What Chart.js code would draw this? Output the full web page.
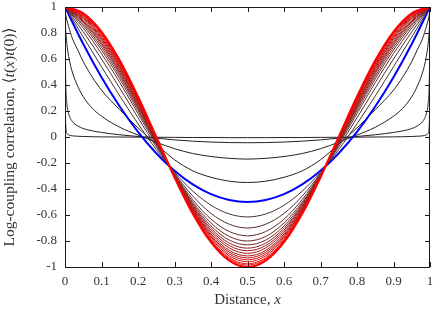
<!DOCTYPE html>
<html>
<head>
<meta charset="utf-8">
<script src="https://cdn.jsdelivr.net/npm/chart.js@4.4.0/dist/chart.umd.min.js"></script>
<style>
  html, body { margin: 0; padding: 0; background: #fff; }
  #wrap { width: 436px; height: 310px; }
</style>
</head>
<body>
<div id="wrap"><canvas id="corrCanvas" width="436" height="310"></canvas></div>
<script>
/* ===== DATOS ===== */
const xTicks = [0, 0.1, 0.2, 0.3, 0.4, 0.5, 0.6, 0.7, 0.8, 0.9, 1];
const xTickLabels = ['0', '0.1', '0.2', '0.3', '0.4', '0.5', '0.6', '0.7', '0.8', '0.9', '1'];
const yTicks = [-1, -0.8, -0.6, -0.4, -0.2, 0, 0.2, 0.4, 0.6, 0.8, 1];
const yTickLabels = ['-1', '-0.8', '-0.6', '-0.4', '-0.2', '0', '0.2', '0.4', '0.6', '0.8', '1'];

// malla fina para las curvas negras (empinadas cerca de los bordes)
const blackX = [0, 0.001, 0.002, 0.005, 0.01, 0.02, 0.035, 0.05, 0.075, 0.1, 0.15, 0.2, 0.25, 0.3, 0.35, 0.4, 0.45,
                0.5,
                0.55, 0.6, 0.65, 0.7, 0.75, 0.8, 0.85, 0.9, 0.925, 0.95, 0.965, 0.98, 0.99, 0.995, 0.998, 0.999, 1];

const curveA = [1, 0.3, 0.09, 0.03, 0.016, 0.009, 0.006, 0.004, 0.002, 0.001, 0, -0.001, -0.002, -0.003, -0.004, -0.004, -0.005,
                -0.005,
                -0.005, -0.004, -0.004, -0.003, -0.002, -0.001, 0, 0.001, 0.002, 0.004, 0.006, 0.009, 0.016, 0.03, 0.09, 0.3, 1];
const curveB = [1, 0.6, 0.42, 0.26, 0.18, 0.12, 0.085, 0.065, 0.047, 0.035, 0.017, 0.004, -0.009, -0.022, -0.032, -0.039, -0.043,
                -0.044,
                -0.043, -0.039, -0.032, -0.022, -0.009, 0.004, 0.017, 0.035, 0.047, 0.065, 0.085, 0.12, 0.18, 0.26, 0.42, 0.6, 1];
const curveC = [1, 0.88, 0.82, 0.72, 0.62, 0.5, 0.39, 0.31, 0.22, 0.16, 0.075, 0.015, -0.04, -0.09, -0.127, -0.15, -0.164,
                -0.17,
                -0.164, -0.15, -0.127, -0.09, -0.04, 0.015, 0.075, 0.16, 0.22, 0.31, 0.39, 0.5, 0.62, 0.72, 0.82, 0.88, 1];
const curveD = [1, 0.96, 0.94, 0.9, 0.85, 0.76, 0.67, 0.58, 0.46, 0.36, 0.21, 0.07, -0.055, -0.175, -0.26, -0.31, -0.34,
                -0.35,
                -0.34, -0.31, -0.26, -0.175, -0.055, 0.07, 0.21, 0.36, 0.46, 0.58, 0.67, 0.76, 0.85, 0.9, 0.94, 0.96, 1];

// malla regular para la curva azul y la familia roja
const gridX = [0, 0.05, 0.1, 0.15, 0.2, 0.25, 0.3, 0.35, 0.4, 0.45, 0.5, 0.55, 0.6, 0.65, 0.7, 0.75, 0.8, 0.85, 0.9, 0.95, 1];

const blueCurve = [1, 0.715, 0.46, 0.235, 0.04, -0.125, -0.26, -0.365, -0.44, -0.485, -0.5,
                   -0.485, -0.44, -0.365, -0.26, -0.125, 0.04, 0.235, 0.46, 0.715, 1];

const redCurves = [
  [1, 0.769, 0.540, 0.316, 0.102, -0.096, -0.271, -0.416, -0.525, -0.592, -0.615, -0.592, -0.525, -0.416, -0.271, -0.096, 0.102, 0.316, 0.540, 0.769, 1],
  [1, 0.809, 0.600, 0.376, 0.148, -0.075, -0.280, -0.454, -0.588, -0.671, -0.700, -0.671, -0.588, -0.454, -0.280, -0.075, 0.148, 0.376, 0.600, 0.809, 1],
  [1, 0.838, 0.641, 0.419, 0.180, -0.060, -0.285, -0.481, -0.632, -0.727, -0.760, -0.727, -0.632, -0.481, -0.285, -0.060, 0.180, 0.419, 0.641, 0.838, 1],
  [1, 0.857, 0.669, 0.447, 0.201, -0.050, -0.289, -0.499, -0.661, -0.765, -0.800, -0.765, -0.661, -0.499, -0.289, -0.050, 0.201, 0.447, 0.669, 0.857, 1],
  [1, 0.871, 0.690, 0.468, 0.218, -0.042, -0.292, -0.512, -0.684, -0.793, -0.830, -0.793, -0.684, -0.512, -0.292, -0.042, 0.218, 0.468, 0.690, 0.871, 1],
  [1, 0.883, 0.708, 0.486, 0.231, -0.036, -0.295, -0.523, -0.702, -0.816, -0.855, -0.816, -0.702, -0.523, -0.295, -0.036, 0.231, 0.486, 0.708, 0.883, 1],
  [1, 0.892, 0.722, 0.500, 0.242, -0.031, -0.297, -0.532, -0.717, -0.835, -0.875, -0.835, -0.717, -0.532, -0.297, -0.031, 0.242, 0.500, 0.722, 0.892, 1],
  [1, 0.901, 0.736, 0.514, 0.253, -0.026, -0.299, -0.541, -0.732, -0.853, -0.895, -0.853, -0.732, -0.541, -0.299, -0.026, 0.253, 0.514, 0.736, 0.901, 1],
  [1, 0.911, 0.750, 0.528, 0.263, -0.021, -0.301, -0.550, -0.746, -0.872, -0.915, -0.872, -0.746, -0.550, -0.301, -0.021, 0.263, 0.528, 0.750, 0.911, 1],
  [1, 0.918, 0.760, 0.539, 0.271, -0.017, -0.302, -0.557, -0.757, -0.886, -0.930, -0.886, -0.757, -0.557, -0.302, -0.017, 0.271, 0.539, 0.760, 0.918, 1],
  [1, 0.925, 0.771, 0.549, 0.279, -0.014, -0.304, -0.563, -0.768, -0.900, -0.945, -0.900, -0.768, -0.563, -0.304, -0.014, 0.279, 0.549, 0.771, 0.925, 1],
  [1, 0.932, 0.781, 0.560, 0.287, -0.010, -0.305, -0.570, -0.779, -0.914, -0.960, -0.914, -0.779, -0.570, -0.305, -0.010, 0.287, 0.560, 0.781, 0.932, 1],
  [1, 0.939, 0.792, 0.570, 0.296, -0.006, -0.307, -0.577, -0.791, -0.928, -0.975, -0.928, -0.791, -0.577, -0.307, -0.006, 0.296, 0.570, 0.792, 0.939, 1],
  [1, 0.944, 0.799, 0.577, 0.301, -0.004, -0.308, -0.581, -0.798, -0.937, -0.985, -0.937, -0.798, -0.581, -0.308, -0.004, 0.301, 0.577, 0.799, 0.944, 1],
  [1, 0.951, 0.809, 0.588, 0.309, 0, -0.309, -0.588, -0.809, -0.951, -1, -0.951, -0.809, -0.588, -0.309, 0, 0.309, 0.588, 0.809, 0.951, 1]
];

/* ===== ESTILO ===== */
const SERIF = '"Liberation Serif", "DejaVu Serif", serif';
const TEXT_COLOR = '#333';

function toPoints(xs, ys) {
    return xs.map((x, i) => ({ x: x, y: ys[i] }));
}

// de casi negro a rojo puro
function redShade(t) {
    const r = Math.round(70 + 185 * t);
    const g = Math.round(50 * (1 - t));
    return `rgb(${r},${g},${g})`;
}

function lineSet(points, color, width) {
    return {
        data: points,
        borderColor: color,
        borderWidth: width,
        pointRadius: 0,
        fill: false,
        cubicInterpolationMode: 'monotone'
    };
}

const datasets = [];
[curveA, curveB, curveC, curveD].forEach(ys => {
    datasets.push(lineSet(toPoints(blackX, ys), '#222', 1));
});
datasets.push(lineSet(toPoints(gridX, blueCurve), '#0000ff', 2));
redCurves.forEach((ys, i) => {
    const t = i / (redCurves.length - 1);
    const last = i === redCurves.length - 1;
    datasets.push(lineSet(toPoints(gridX, ys), redShade(t), last ? 2.2 : 1));
});
// los últimos se dibujan encima
datasets.forEach((d, i) => { d.order = datasets.length - i; });

// Texto con tramos en cursiva
function drawRich(ctx, parts, size) {
    const fonts = parts.map(p => `${p[1] ? 'italic ' : ''}${size}px ${SERIF}`);
    let total = 0;
    const widths = parts.map((p, i) => {
        ctx.font = fonts[i];
        const w = ctx.measureText(p[0]).width;
        total += w;
        return w;
    });
    let cx = -total / 2;
    parts.forEach((p, i) => {
        ctx.font = fonts[i];
        ctx.fillText(p[0], cx, 0);
        cx += widths[i];
    });
}

// Sin relleno extra por las etiquetas: el área de trazado la fija el layout
function fixPadding(axis) {
    axis.paddingTop = 0;
    axis.paddingBottom = 0;
    axis.paddingLeft = 0;
    axis.paddingRight = 0;
}

const frameAndTitles = {
    id: 'frameAndTitles',
    afterDatasetsDraw(chart) {
        const { ctx, chartArea: a, scales } = chart;
        const sx = scales.x, sy = scales.y;
        const tick = 5;
        ctx.save();
        ctx.strokeStyle = '#1a1a1a';
        ctx.lineWidth = 1;
        ctx.beginPath();
        xTicks.forEach(v => {
            const px = Math.round(sx.getPixelForValue(v)) + 0.5;
            ctx.moveTo(px, a.bottom); ctx.lineTo(px, a.bottom - tick);
            ctx.moveTo(px, a.top); ctx.lineTo(px, a.top + tick);
        });
        yTicks.forEach(v => {
            const py = Math.round(sy.getPixelForValue(v)) + 0.5;
            ctx.moveTo(a.left, py); ctx.lineTo(a.left + tick, py);
            ctx.moveTo(a.right, py); ctx.lineTo(a.right - tick, py);
        });
        ctx.stroke();
        ctx.strokeRect(Math.round(a.left) + 0.5, Math.round(a.top) + 0.5,
                       Math.round(a.width) - 1, Math.round(a.height));
        ctx.restore();
    },
    afterDraw(chart) {
        const { ctx, chartArea: a } = chart;
        ctx.save();
        ctx.fillStyle = TEXT_COLOR;
        ctx.textBaseline = 'middle';
        ctx.textAlign = 'left';
        // título eje x
        ctx.save();
        ctx.translate((a.left + a.right) / 2, 300);
        drawRich(ctx, [['Distance, ', false], ['x', true]], 15);
        ctx.restore();
        // título eje y
        ctx.save();
        ctx.translate(10, (a.top + a.bottom) / 2);
        ctx.rotate(-Math.PI / 2);
        drawRich(ctx, [['Log-coupling correlation, \u27E8', false], ['t', true], ['(', false], ['x', true],
                       [')', false], ['t', true], ['(0)\u27E9', false]], 15.5);
        ctx.restore();
        ctx.restore();
    }
};

new Chart(document.getElementById('corrCanvas'), {
    type: 'line',
    data: { datasets: datasets },
    options: {
        responsive: false,
        animation: false,
        devicePixelRatio: 1,
        layout: { padding: { top: 7, right: 6, left: 0, bottom: 0 } },
        plugins: {
            legend: { display: false },
            tooltip: { enabled: false }
        },
        scales: {
            x: {
                type: 'linear',
                min: 0,
                max: 1,
                afterBuildTicks: axis => { axis.ticks = xTicks.map(v => ({ value: v })); },
                afterFit: axis => { axis.height = 43; fixPadding(axis); },
                grid: { display: false, drawTicks: false },
                border: { display: false },
                ticks: {
                    padding: 7,
                    maxRotation: 0,
                    autoSkip: false,
                    color: TEXT_COLOR,
                    font: { family: SERIF, size: 13 },
                    callback: (value, index) => xTickLabels[index]
                }
            },
            y: {
                type: 'linear',
                min: -1,
                max: 1,
                afterBuildTicks: axis => { axis.ticks = yTicks.map(v => ({ value: v })); },
                afterFit: axis => { axis.width = 65; fixPadding(axis); },
                grid: { display: false, drawTicks: false },
                border: { display: false },
                ticks: {
                    padding: 8,
                    autoSkip: false,
                    color: TEXT_COLOR,
                    font: { family: SERIF, size: 13 },
                    callback: (value, index) => yTickLabels[index]
                }
            }
        }
    },
    plugins: [frameAndTitles]
});
</script>
</body>
</html>
